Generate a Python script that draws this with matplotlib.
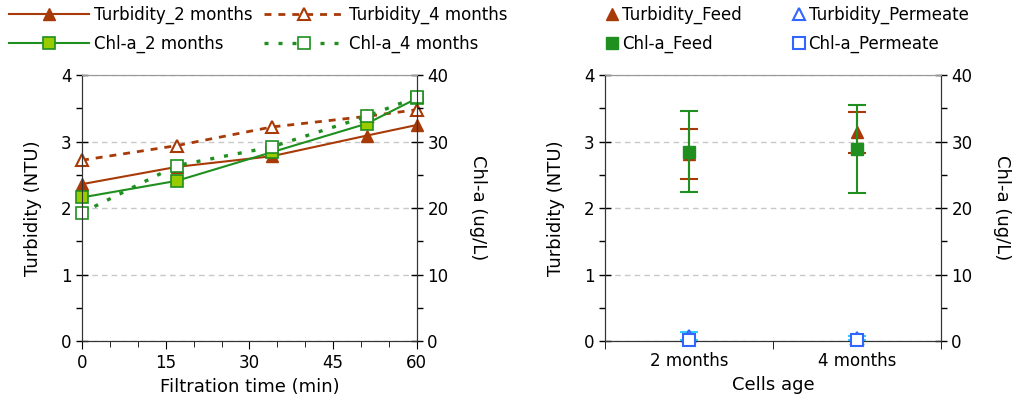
import matplotlib
matplotlib.use('Agg')
import matplotlib.pyplot as plt
from matplotlib.ticker import MultipleLocator

# Data - left panel (filtration time)
time_min = [0, 17, 34, 51, 60]
turb_2m = [2.36, 2.62, 2.78, 3.09, 3.25]
turb_4m = [2.72, 2.94, 3.22, 3.38, 3.48]
chla_2m = [21.6, 24.1, 28.4, 32.7, 36.5]
chla_4m = [19.3, 26.4, 29.2, 33.8, 36.7]

# Data - right panel (cells age)
ages = ['2 months', '4 months']
turb_feed = [2.81, 3.14]
turb_feed_err = [0.38, 0.31]
turb_perm = [0.08, 0.05]
turb_perm_err = [0.06, 0.03]
chla_feed = [28.5, 28.9]
chla_feed_err = [6.1, 6.6]
chla_perm = [0.2, 0.2]
chla_perm_err = [0.3, 0.3]

BROWN = '#A83A08'
GREEN = '#1F8F1F'
LIME = '#99CC00'
BLUE = '#3366FF'
CYAN = '#33CCFF'

plt.rcParams['font.family'] = 'DejaVu Sans'
plt.rcParams['font.size'] = 11

fig = plt.figure(figsize=(10.21, 4.04), dpi=100)
ax1 = fig.add_axes([0.0803, 0.156, 0.328, 0.658])
ax2 = fig.add_axes([0.5926, 0.156, 0.329, 0.658])


def style_axes(ax, axr):
    ax.set_ylim(0, 4)
    axr.set_ylim(0, 40)
    ax.yaxis.set_major_locator(MultipleLocator(1))
    ax.yaxis.set_minor_locator(MultipleLocator(0.5))
    axr.yaxis.set_major_locator(MultipleLocator(10))
    axr.yaxis.set_minor_locator(MultipleLocator(5))
    for a in (ax, axr):
        a.tick_params(axis='y', which='major', direction='inout', length=8, width=1)
        a.tick_params(axis='y', which='minor', direction='out', length=4, width=1)
        a.tick_params(axis='both', labelsize=12)
        a.spines['top'].set_color('#999999')
        for s in ('left', 'right', 'bottom'):
            a.spines[s].set_color('#333333')
    ax.grid(axis='y', which='major', color='#c8c8c8', linestyle=(0, (4, 3)), linewidth=1)
    ax.set_axisbelow(True)
    ax.set_ylabel('Turbidity (NTU)', fontsize=13, labelpad=14)
    axr.set_ylabel('Chl-a (ug/L)', fontsize=13, rotation=270, labelpad=28)


# Left panel
ax1r = ax1.twinx()
style_axes(ax1, ax1r)
l1, = ax1.plot(time_min, turb_2m, '-', color=BROWN, marker='^', ms=9, lw=1.5)
l2, = ax1.plot(time_min, turb_4m, color=BROWN, ls=(0, (2.5, 2.5)), marker='^', ms=9, lw=2,
               mfc='white', mew=1.5)
l3, = ax1r.plot(time_min, chla_2m, '-', color=GREEN, marker='s', ms=8, lw=1.5,
                mfc=LIME, mew=1.2)
l4, = ax1r.plot(time_min, chla_4m, color=GREEN, ls=(0, (1.2, 3)), marker='s', ms=8, lw=2.4,
                mfc='white', mew=1.2)
ax1.set_xlim(0, 60)
ax1.xaxis.set_major_locator(MultipleLocator(15))
ax1.xaxis.set_minor_locator(MultipleLocator(5))
ax1.tick_params(axis='x', which='major', direction='out', length=6)
ax1.tick_params(axis='x', which='minor', direction='out', length=4)
ax1.set_xlabel('Filtration time (min)', fontsize=13)
for l in (l1, l2, l3, l4):
    l.set_clip_on(False)

ax1.legend([l1, l3, l2, l4],
           ['Turbidity_2 months', 'Chl-a_2 months', 'Turbidity_4 months', 'Chl-a_4 months'],
           ncol=2, loc='upper left', bbox_to_anchor=(0.009, 0.985),
           bbox_transform=fig.transFigure, frameon=False, borderpad=0, borderaxespad=0,
           fontsize=12, handlelength=4.8, columnspacing=0.7, handletextpad=0.3,
           labelspacing=0.65)

# Right panel
xpos = [1, 2]
ax2r = ax2.twinx()
style_axes(ax2, ax2r)
e1 = ax2.errorbar(xpos, turb_feed, yerr=turb_feed_err, fmt='^', color=BROWN, ms=9,
                  capsize=6.5, elinewidth=1.5, capthick=1.5, zorder=3)
e2 = ax2.errorbar(xpos, turb_perm, yerr=turb_perm_err, fmt='^', color=BLUE, ecolor=CYAN,
                  mfc='white', mew=1.5, ms=9, capsize=6.5, elinewidth=1.5, capthick=1.5,
                  zorder=3, clip_on=False)
e3 = ax2r.errorbar(xpos, chla_feed, yerr=chla_feed_err, fmt='s', color=GREEN, ms=8,
                   capsize=6.5, elinewidth=1.5, capthick=1.5, zorder=3)
e4 = ax2r.errorbar(xpos, chla_perm, yerr=chla_perm_err, fmt='s', color=BLUE, mfc='white',
                   mew=1.5, ms=8, capsize=5, elinewidth=1.2, capthick=1.2,
                   zorder=3, clip_on=False)
ax2.set_xlim(0.5, 2.5)
ax2.set_xticks(xpos)
ax2.set_xticklabels(ages)
ax2.set_xticks([0.5, 1.5, 2.5], minor=True)
ax2.tick_params(axis='x', which='major', length=0, pad=8)
ax2.tick_params(axis='x', which='minor', direction='out', length=6)
ax2.set_xlabel('Cells age', fontsize=13)

ax2.legend([e1[0], e3[0], e2[0], e4[0]],
           ['Turbidity_Feed', 'Chl-a_Feed', 'Turbidity_Permeate', 'Chl-a_Permeate'],
           ncol=2, loc='upper left', bbox_to_anchor=(0.593, 0.985),
           bbox_transform=fig.transFigure, frameon=False, borderpad=0, borderaxespad=0,
           fontsize=12, handlelength=0.8, columnspacing=3.0, handletextpad=0.2,
           labelspacing=0.65)

plt.savefig('out.png', dpi=100)
